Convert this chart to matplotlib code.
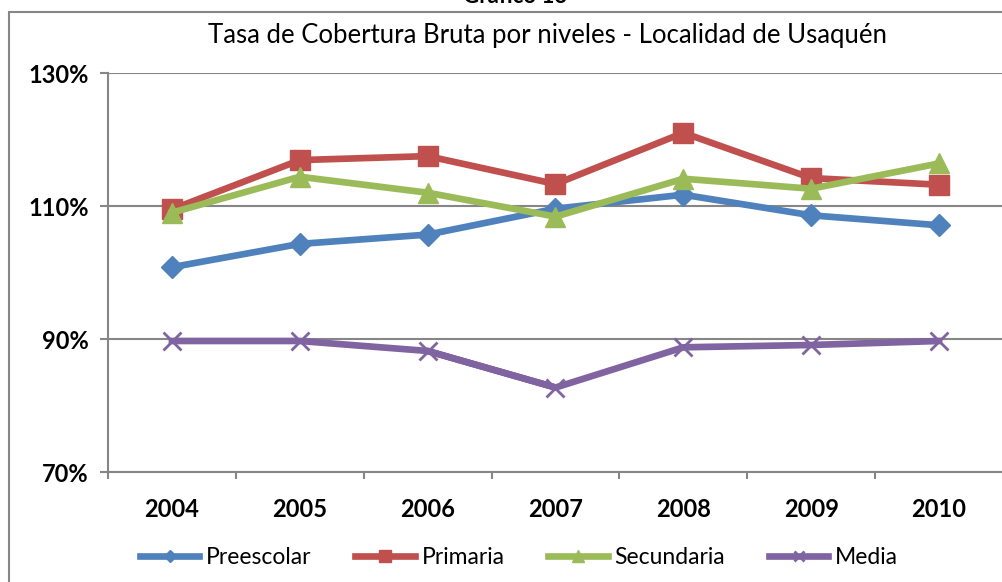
import matplotlib
matplotlib.use("Agg")
import matplotlib.pyplot as plt
from matplotlib.patches import Rectangle
from matplotlib.ticker import FuncFormatter

plt.rcParams['font.family'] = ['Lato', 'DejaVu Sans']

years = ['2004', '2005', '2006', '2007', '2008', '2009', '2010']
preescolar = [100.8, 104.3, 105.7, 109.6, 111.7, 108.6, 107.1]
primaria = [109.5, 116.9, 117.5, 113.3, 121.0, 114.2, 113.2]
secundaria = [109.0, 114.4, 112.0, 108.4, 114.1, 112.6, 116.4]
media = [89.7, 89.7, 88.2, 82.7, 88.75, 89.1, 89.7]
yticks = [70, 90, 110, 130]

W, H = 1003, 582
fig = plt.figure(figsize=(W / 100, H / 100), dpi=100)
ax = fig.add_axes([108 / W, 1 - 472 / H, 895 / W, 399 / H])

x = list(range(len(years)))
lw = 4.8
ax.plot(x, preescolar, color='#4F81BD', lw=lw, marker='D', ms=11, label='Preescolar', zorder=3)
ax.plot(x, primaria, color='#C0504D', lw=lw, marker='s', ms=14, label='Primaria', zorder=4)
ax.plot(x, secundaria, color='#9BBB59', lw=lw, marker='^', ms=15, label='Secundaria', zorder=5)
ax.plot(x, media, color='#8064A2', lw=lw, marker='x', ms=13, mew=2, label='Media', zorder=3)
ax.plot(x[2:4], media[2:4], color='#7030A0', lw=lw, zorder=2.9, solid_capstyle='round')

ax.set_xlim(-0.5, len(years) - 0.5)
ax.set_ylim(70, 130)
ax.set_yticks(yticks)
ax.yaxis.set_major_formatter(FuncFormatter(lambda v, p: f'{v:.0f}%'))
ax.set_xticks([i - 0.5 for i in range(len(years) + 1)])
ax.set_xticklabels([])
ax.set_xticks(x, minor=True)
ax.set_xticklabels(years, minor=True)
ax.tick_params(axis='x', which='major', length=5, width=1.5, color='#868686', direction='out')
ax.tick_params(axis='x', which='minor', length=0, pad=19, labelsize=17)
ax.tick_params(axis='y', length=6, width=1.5, color='#868686', direction='out', pad=8, labelsize=17)
for lab in ax.get_xticklabels(minor=True) + ax.get_yticklabels():
    lab.set_fontweight('bold')

ax.grid(axis='y', color='#868686', lw=1.5, zorder=0)
ax.set_axisbelow(True)
for s in ['top', 'right']:
    ax.spines[s].set_visible(False)
for s in ['left', 'bottom']:
    ax.spines[s].set_color('#868686')
    ax.spines[s].set_linewidth(1.5)

fig.text(548 / W, 1 - 35 / H, 'Tasa de Cobertura Bruta por niveles - Localidad de Usaquén',
         ha='center', va='center', fontsize=18.5)
fig.text(515 / W, 1 - 3 / H, 'Gráfico 13', ha='center', va='baseline', fontsize=16, fontweight='bold')

fig.patches.append(Rectangle((9 / W, -0.1), 2, 1 - 12 / H + 0.1, transform=fig.transFigure,
                             fill=False, edgecolor='#868686', lw=1.5))

leg = fig.legend(loc='center', bbox_to_anchor=(519 / W, 1 - 558 / H), ncol=4, frameon=False,
                 fontsize=16.5, handlelength=2.6, columnspacing=1.9, handletextpad=0.3, markerscale=0.6)

fig.savefig('out.png', dpi=100)
